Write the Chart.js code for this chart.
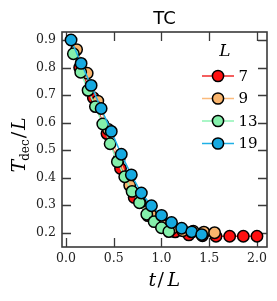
<!DOCTYPE html>
<html>
<head>
<meta charset="utf-8">
<script src="https://cdn.jsdelivr.net/npm/chart.js@4/dist/chart.umd.min.js"></script>
<style>
html,body{margin:0;padding:0;background:#fff;}
#c{display:block;}
</style>
</head>
<body>
<canvas id="c" width="277" height="301"></canvas>
<script>
// ---- data ----
const seriesLabels = ["7", "9", "13", "19"];
const x7  = [0.143,0.286,0.429,0.571,0.714,0.857,1.000,1.143,1.286,1.429,1.571,1.714,1.857,2.000];
const y7  = [0.800,0.690,0.560,0.433,0.328,0.262,0.222,0.203,0.192,0.189,0.187,0.187,0.187,0.187];
const x9  = [0.111,0.222,0.333,0.444,0.556,0.667,0.778,0.889,1.000,1.111,1.222,1.333,1.444,1.556];
const y9  = [0.865,0.779,0.678,0.575,0.468,0.372,0.310,0.265,0.232,0.215,0.207,0.205,0.202,0.200];
const x13 = [0.077,0.154,0.231,0.308,0.385,0.462,0.538,0.615,0.692,0.769,0.846,0.923,1.000,1.077];
const y13 = [0.850,0.783,0.717,0.658,0.595,0.523,0.458,0.403,0.350,0.309,0.267,0.240,0.218,0.204];
const x19 = [0.053,0.158,0.263,0.368,0.474,0.579,0.684,0.789,0.895,1.000,1.105,1.211,1.316,1.421];
const y19 = [0.900,0.815,0.735,0.651,0.568,0.485,0.410,0.344,0.298,0.263,0.237,0.216,0.203,0.193];
const xTicks = [0.0, 0.5, 1.0, 1.5, 2.0];
const yTicks = [0.2, 0.3, 0.4, 0.5, 0.6, 0.7, 0.8, 0.9];

const colors = ["#ff1010", "#f9b46c", "#84f0ab", "#16a9e0"];
const lineColors = ["#f02a2a", "#fbbb7c", "#8ef3b4", "#1fb0e6"];

function pts(xs, ys){ return xs.map((x,i)=>({x:x, y:ys[i]})); }
const allX = [x7, x9, x13, x19];
const allY = [y7, y9, y13, y19];

const datasets = seriesLabels.map((lab, i) => ({
  label: lab,
  data: pts(allX[i], allY[i]),
  showLine: true,
  borderColor: lineColors[i],
  borderWidth: 1.5,
  pointBackgroundColor: colors[i],
  pointBorderColor: "#000",
  pointBorderWidth: 1.5,
  pointRadius: 5.7,
  order: 4 - i,
  clip: false
}));

const SPINE = "#3a3a3a";
const TICKLEN = 9;

const frame = {
  id: "frame",
  beforeDatasetsDraw(chart) {
    const ctx = chart.ctx, a = chart.chartArea;
    const xs = chart.scales.x, ys = chart.scales.y;
    ctx.save();
    ctx.strokeStyle = SPINE;
    ctx.lineWidth = 1.3;
    ctx.beginPath();
    xTicks.forEach(v => {
      const p = Math.round(xs.getPixelForValue(v)) + 0.5;
      ctx.moveTo(p, a.bottom); ctx.lineTo(p, a.bottom - TICKLEN);
      ctx.moveTo(p, a.top); ctx.lineTo(p, a.top + TICKLEN);
    });
    yTicks.forEach(v => {
      const p = Math.round(ys.getPixelForValue(v)) + 0.5;
      ctx.moveTo(a.left, p); ctx.lineTo(a.left + TICKLEN, p);
      ctx.moveTo(a.right, p); ctx.lineTo(a.right - TICKLEN, p);
    });
    ctx.stroke();
    ctx.restore();
  },
  afterDraw(chart) {
    const ctx = chart.ctx, a = chart.chartArea;
    ctx.save();
    // spines
    ctx.strokeStyle = SPINE;
    ctx.lineWidth = 1.6;
    ctx.strokeRect(a.left, a.top, a.right - a.left, a.bottom - a.top);

    // title
    ctx.fillStyle = "#000";
    ctx.font = "18px 'DejaVu Sans'";
    ctx.textAlign = "center";
    ctx.textBaseline = "alphabetic";
    ctx.fillText("TC", (a.left + a.right) / 2, 23.5);

    // x axis title  t/L
    const cx = (a.left + a.right) / 2;
    const by = 286;
    ctx.font = "italic 19px 'DejaVu Serif'";
    ctx.textAlign = "left";
    ctx.fillText("t", cx - 16, by);
    ctx.font = "19px 'DejaVu Serif'";
    ctx.fillText("/", cx - 7, by);
    ctx.font = "italic 19px 'DejaVu Serif'";
    ctx.fillText("L", cx + 3, by);

    // y axis title  T_dec / L (rotated)
    ctx.save();
    ctx.translate(25, (a.top + a.bottom) / 2);
    ctx.rotate(-Math.PI / 2);
    ctx.textAlign = "left";
    let x0 = -33;
    ctx.font = "italic 19px 'DejaVu Serif'";
    ctx.fillText("T", x0, 0);
    x0 += ctx.measureText("T").width - 1;
    ctx.font = "12px 'DejaVu Serif'";
    ctx.fillText("dec", x0, 4);
    x0 += ctx.measureText("dec").width + 1;
    ctx.font = "19px 'DejaVu Serif'";
    ctx.fillText("/", x0, 0);
    x0 += ctx.measureText("/").width + 2;
    ctx.font = "italic 19px 'DejaVu Serif'";
    ctx.fillText("L", x0, 0);
    ctx.restore();

    // legend
    ctx.font = "italic 17px 'DejaVu Serif'";
    ctx.textAlign = "center";
    ctx.textBaseline = "middle";
    ctx.fillStyle = "#000";
    ctx.fillText("L", 225, 52);
    const ly = [76, 98.5, 121, 143.5];
    seriesLabels.forEach((lab, i) => {
      const y = ly[i];
      ctx.strokeStyle = lineColors[i];
      ctx.lineWidth = 1.5;
      ctx.beginPath(); ctx.moveTo(202, y); ctx.lineTo(234, y); ctx.stroke();
      ctx.beginPath(); ctx.arc(218, y, 5.6, 0, Math.PI * 2);
      ctx.fillStyle = colors[i]; ctx.fill();
      ctx.lineWidth = 1.5; ctx.strokeStyle = "#000"; ctx.stroke();
      ctx.fillStyle = "#000";
      ctx.font = "15px 'DejaVu Serif'";
      ctx.textAlign = "left";
      ctx.fillText(lab, 238.5, y + 1);
    });
    ctx.restore();
  }
};

new Chart(document.getElementById("c"), {
  type: "scatter",
  data: { datasets: datasets },
  options: {
    responsive: false,
    animation: false,
    devicePixelRatio: 1,
    layout: { padding: { top: 32, right: 10, left: 0, bottom: 0 } },
    plugins: { legend: { display: false }, tooltip: { enabled: false }, title: { display: false } },
    scales: {
      x: {
        type: "linear", min: -0.042, max: 2.105,
        grid: { display: false, drawTicks: false },
        border: { display: false },
        afterBuildTicks: s => { s.ticks = xTicks.map(v => ({ value: v })); },
        afterFit: s => { s.height = 54; },
        ticks: { padding: 4, color: "#222", font: { family: "DejaVu Serif", size: 12.5 },
                 maxRotation: 0, callback: v => Number(v).toFixed(1) }
      },
      y: {
        type: "linear", min: 0.148, max: 0.929,
        grid: { display: false, drawTicks: false },
        border: { display: false },
        afterBuildTicks: s => { s.ticks = yTicks.map(v => ({ value: v })); },
        afterFit: s => { s.width = 62; },
        ticks: { padding: 6, color: "#222", font: { family: "DejaVu Serif", size: 12.5 },
                 callback: v => Number(v).toFixed(1) }
      }
    }
  },
  plugins: [frame]
});
</script>
</body>
</html>
